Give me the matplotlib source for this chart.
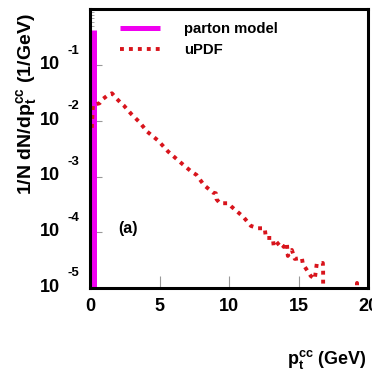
import numpy as np
import matplotlib
matplotlib.use("Agg")
from matplotlib import pyplot as plt
from matplotlib import transforms
from matplotlib.ticker import LogLocator, NullFormatter

plt.rcParams['font.family'] = ['Liberation Sans', 'DejaVu Sans']
plt.rcParams['font.weight'] = 'bold'
plt.rcParams['mathtext.default'] = 'regular'

# uPDF spectrum, 1/N dN/dpt (1/GeV) vs pt^cc (GeV); 0 = empty bin
pt_updf = [0.1, 0.18, 0.66, 0.90, 1.21, 1.55, 1.86, 2.14, 2.41, 2.94, 3.54, 4.09,
           4.88, 5.60, 6.56, 7.28, 7.64, 8.17, 8.83, 9.03, 9.08, 9.32, 9.91, 10.16,
           10.71, 10.99, 11.55, 12.07, 12.55, 12.63, 13.13, 13.20, 13.63, 13.92,
           14.14, 14.21, 14.50, 14.71, 15.22, 15.29, 15.58, 15.86, 16.15, 16.29,
           16.73, 16.75, 16.75, 16.87, 19.1, 19.19, 19.3, 20.0]
val_updf = [0.0075, 0.0193, 0.0207, 0.0247, 0.0283, 0.0313, 0.0255, 0.0216, 0.0188,
            0.0133, 0.00944, 0.0064, 0.00441, 0.0028, 0.00173, 0.00122, 0.00107,
            0.000706, 0.000514, 0.000501, 0.000391, 0.000332, 0.000332, 0.000288,
            0.000219, 0.000191, 0.00013, 0.000118, 0.000118, 7.9e-5, 7.9e-5, 5.45e-5,
            6.7e-5, 5.45e-5, 6.43e-5, 3.76e-5, 4.81e-5, 3.32e-5, 3.46e-5, 2.70e-5,
            2.10e-5, 1.64e-5, 1.45e-5, 2.70e-5, 2.81e-5, 2.02e-5, 1.39e-5, 0.0, 0.0,
            1.23e-5, 0.0, 0.0]

# parton model: delta peak at pt ~ 0
pt_parton = [0.25, 0.25]
val_parton = [0.0, 0.43]

x_ticks = [0, 5, 10, 15, 20]
y_ticks = [1e-5, 1e-4, 1e-3, 1e-2, 1e-1]
y_exps = ['-5', '-4', '-3', '-2', '-1']

floor = 1e-9
fig = plt.figure(figsize=(3.72, 3.73), dpi=100)
ax = fig.add_axes([0.243, 0.228, 0.747, 0.7466])
ax.set_axisbelow(True)

ax.plot(pt_parton, np.maximum(val_parton, floor), color='#f000f0', lw=3.6,
        solid_capstyle='butt', label='parton model')
ax.plot(pt_updf, np.maximum(val_updf, floor), color='#d8141c', lw=2.8,
        dashes=(1.0, 1.3), dash_capstyle='butt', label='uPDF')

ax.set_yscale('log')
ax.set_xlim(0, 20)
ax.set_ylim(1e-5, 1)

for s in ax.spines.values():
    s.set_linewidth(2.2)
    s.set_color('black')

ax.set_xticks(x_ticks)
ax.set_xticklabels([str(v) for v in x_ticks], fontsize=13, fontweight='bold')
ax.tick_params(axis='x', direction='in', length=8.5, width=0.8, color='#999999', pad=7)
ax.set_yticks(y_ticks + [1.0])
ax.yaxis.set_minor_locator(LogLocator(base=10, subs=np.arange(2, 10)))
ax.yaxis.set_minor_formatter(NullFormatter())
ax.tick_params(axis='y', which='major', direction='in', length=8.5, width=0.8,
               color='#999999', labelleft=False)
ax.tick_params(axis='y', which='minor', direction='in', length=3, width=0.6,
               color='#999999')

# tick labels written as "10" with raised exponent
trans = transforms.blended_transform_factory(ax.transAxes, ax.transData)
for v, e in zip(y_ticks, y_exps):
    ax.annotate('10', xy=(0, v), xycoords=trans, xytext=(-21.6, 0.5),
                textcoords='offset points', ha='right', va='center',
                fontsize=13, fontweight='bold')
    ax.annotate(e, xy=(0, v), xycoords=trans, xytext=(-16.5, 10.5),
                textcoords='offset points', ha='left', va='center',
                fontsize=9.5, fontweight='bold')

ax.legend(loc='upper left', bbox_to_anchor=(0.106, 0.954), frameon=False,
          prop={'size': 10.7, 'weight': 'bold'}, handlelength=2.7,
          handletextpad=1.6, borderpad=0, borderaxespad=0, labelspacing=0.45)

ax.text(0.099, 0.215, '(a)', transform=ax.transAxes, fontsize=11.5,
        fontweight='bold', ha='left', va='center')

fig.text(0.07, 0.72, r'1/N dN/dp$_t^{cc}$ (1/GeV)', rotation=90, fontsize=14,
         fontweight='bold', ha='center', va='center')
fig.text(0.772, 0.035, r'p$_t^{cc}$ (GeV)', fontsize=13, fontweight='bold',
         ha='left', va='center')

fig.savefig('out.png', dpi=100)
